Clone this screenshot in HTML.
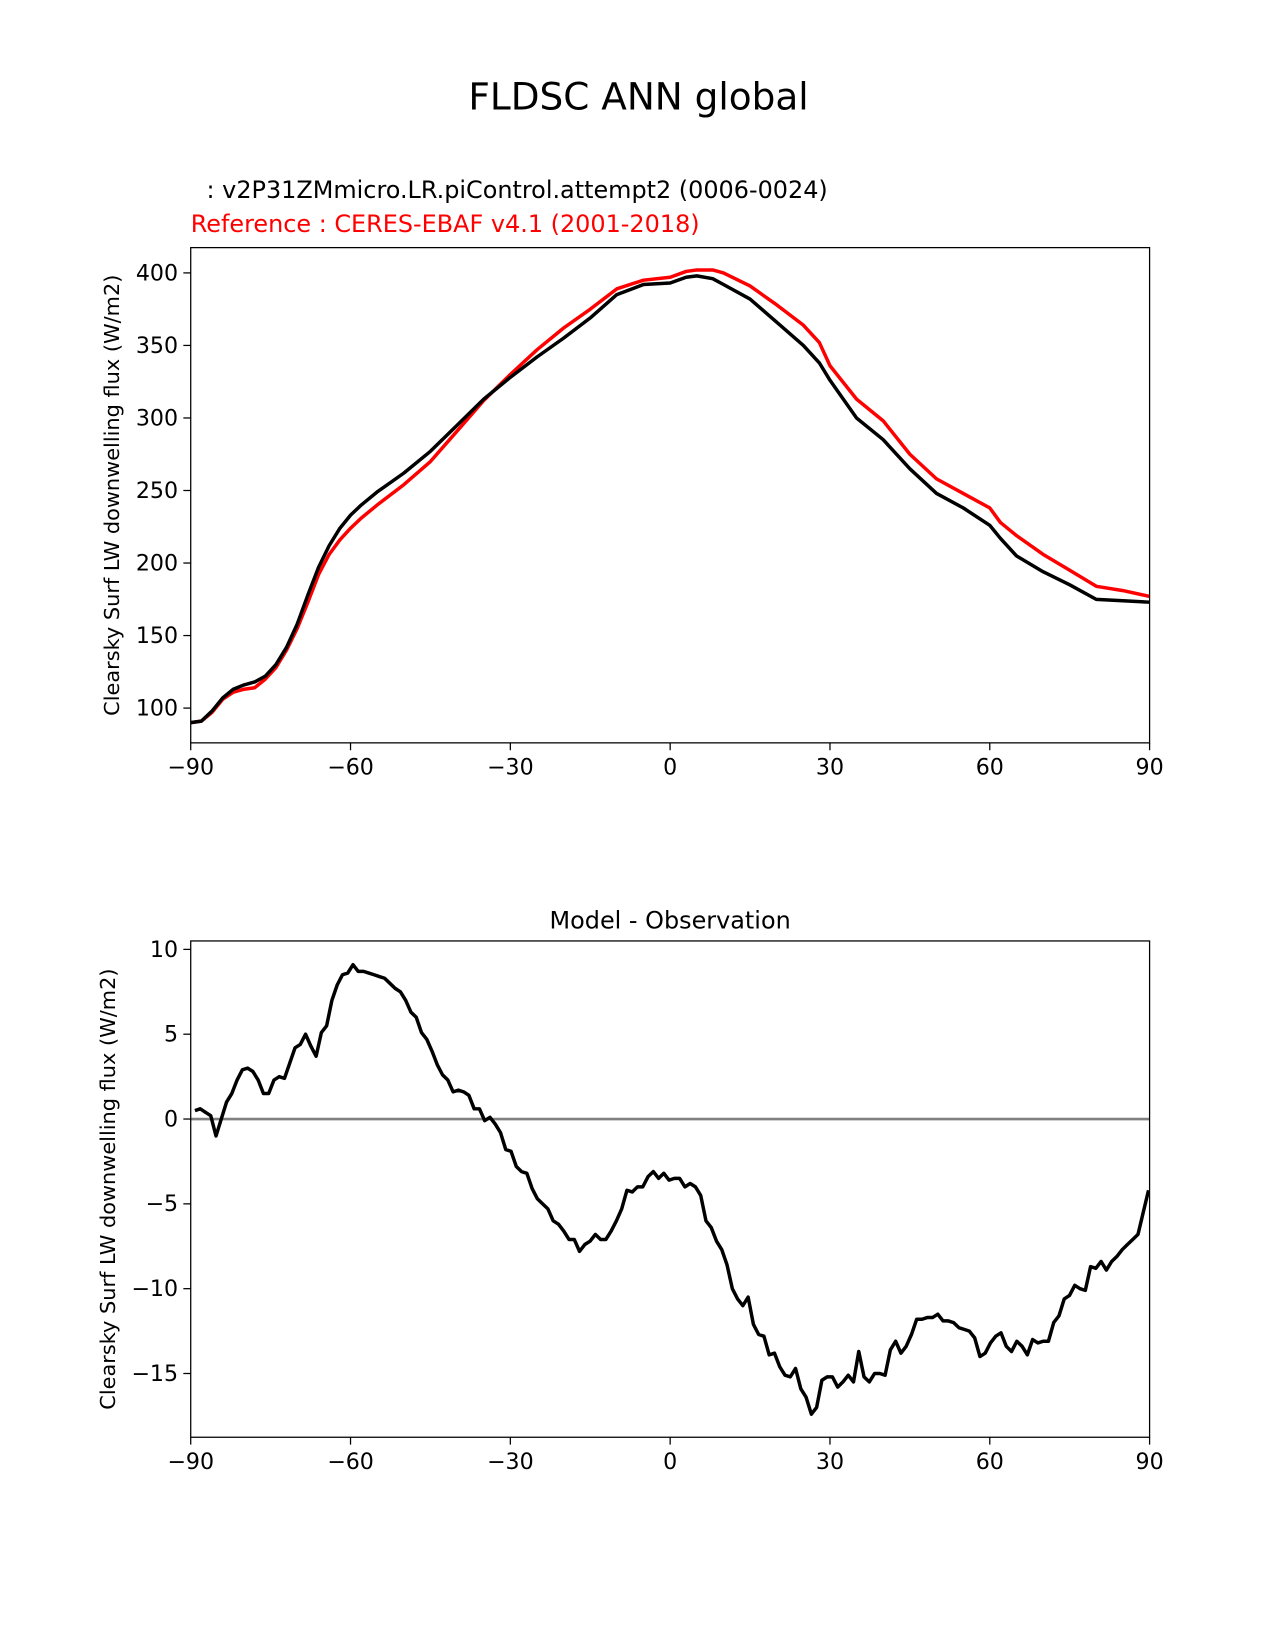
<!DOCTYPE html>
<html><head><meta charset="utf-8"><style>
body{margin:0;background:#fff;}
svg{display:block;font-family:"DejaVu Sans","Liberation Sans",sans-serif;}
</style></head><body>
<svg id="fig" width="1275" height="1650" viewBox="0 0 1275 1650">
<g transform="scale(1.0537)">
<text x="606" y="104" font-size="35.5" text-anchor="middle">FLDSC ANN global</text>
<text x="196" y="188" font-size="22.7">: v2P31ZMmicro.LR.piControl.attempt2 (0006-0024)</text>
<text x="181" y="220" font-size="22.7" fill="#ff0000">Reference : CERES-EBAF v4.1 (2001-2018)</text>
<text x="636" y="881" font-size="22.7" text-anchor="middle">Model - Observation</text>
<g id="top"></g>
<g id="bot"></g>
</g>
</svg>
<script>
const topLat = [-90,-88,-86,-84,-82,-80,-78,-76,-74,-72,-70,-68,-66,-64,-62,-60,-58,-55,-50,-45,-40,-35,-30,-25,-20,-15,-10,-5,0,3,5,8,10,15,20,25,28,30,35,40,45,50,55,60,62,65,70,75,80,85,90];
const modelVals = [90,91,98,107,113,116,118,122,130,142,158,178,197,212,224,233,240,249,262,277,295,313,328,342,355,369,385,392,393,397,398,396,392,382,366,350,338,326,300,285,265,248,238,226,217,205,194,185,175,174,173];
const obsVals = [90,91,97,106,111,113,114,120,128,140,155,173,192,206,216,224,231,240,254,270,291,312,330,347,362,375,389,395,397,401,402,402,400,391,378,364,352,336,313,298,275,258,248,238,228,219,206,195,184,181,177];
const diffLatStart = -89.21, diffLatStep = 0.989;
const diffVals = [0.5,0.6,0.4,0.2,-1.0,0.0,1.0,1.5,2.3,2.9,3.0,2.8,2.3,1.5,1.5,2.3,2.5,2.4,3.3,4.2,4.4,5.0,4.3,3.7,5.1,5.5,7.0,7.9,8.5,8.6,9.1,8.7,8.7,8.6,8.5,8.4,8.3,8.0,7.7,7.5,7.0,6.3,6.0,5.1,4.7,4.0,3.2,2.6,2.3,1.6,1.7,1.6,1.4,0.6,0.6,-0.1,0.1,-0.3,-0.8,-1.8,-1.9,-2.8,-3.1,-3.2,-4.1,-4.7,-5.0,-5.3,-6.0,-6.2,-6.6,-7.1,-7.1,-7.8,-7.4,-7.2,-6.8,-7.1,-7.1,-6.6,-6.0,-5.3,-4.2,-4.3,-4.0,-4.0,-3.4,-3.1,-3.5,-3.2,-3.6,-3.5,-3.5,-4.0,-3.8,-4.0,-4.5,-6.0,-6.4,-7.2,-7.7,-8.6,-10.0,-10.6,-11.0,-10.5,-12.1,-12.7,-12.8,-13.9,-13.8,-14.6,-15.1,-15.2,-14.7,-15.9,-16.4,-17.4,-17.0,-15.4,-15.2,-15.2,-15.8,-15.5,-15.1,-15.5,-13.7,-15.2,-15.5,-15.0,-15.0,-15.1,-13.6,-13.1,-13.8,-13.4,-12.7,-11.8,-11.8,-11.7,-11.7,-11.5,-11.9,-11.9,-12.0,-12.3,-12.4,-12.5,-12.9,-14.0,-13.8,-13.2,-12.8,-12.6,-13.4,-13.7,-13.1,-13.4,-13.9,-13.0,-13.2,-13.1,-13.1,-12.0,-11.6,-10.6,-10.4,-9.8,-10.0,-10.1,-8.7,-8.8,-8.4,-8.9,-8.4,-8.1,-7.7,-7.4,-7.1,-6.8,-5.5,-4.2];
const xTicks = [-90,-60,-30,0,30,60,90];
const xTickLabels = ["\u221290","\u221260","\u221230","0","30","60","90"];
const topYTicks = [100,150,200,250,300,350,400];
const botYTicks = [-15,-10,-5,0,5,10];
const botYTickLabels = ["\u221215","\u221210","\u22125","0","5","10"];

const NS="http://www.w3.org/2000/svg";
function mk(tag, attrs, parent){const e=document.createElementNS(NS,tag);for(const k in attrs)e.setAttribute(k,attrs[k]);parent.appendChild(e);return e;}
const L=181,R=1091;
function xs(lat){return L+(lat+90)/180*(R-L);}
function topY(v){return 672-(v-100)*(672-259)/300;}
function botY(v){return 1062-v*(1062-901)/10;}

function axes(g,top,bot,yTicks,yLabels,yfn,ylabel,nameP){
  xTicks.forEach((t,i)=>{
    const x=xs(t);
    const tk=mk('line',{x1:x,x2:x,y1:bot,y2:bot+7,stroke:'#000','stroke-width':1.2},g);
    
    
    const tx=mk('text',{x:x,y:bot+30,'font-size':21,'text-anchor':'middle'},g);
    tx.textContent=xTickLabels[i];
    
    
  });
  yTicks.forEach((t,i)=>{
    const y=yfn(t);
    const tk=mk('line',{x1:L-7,x2:L,y1:y,y2:y,stroke:'#000','stroke-width':1.2},g);
    
    
    const tx=mk('text',{x:L-12,y:y+7,'font-size':21,'text-anchor':'end'},g);
    tx.textContent=yLabels?yLabels[i]:String(t);
    
    
  });
  const cy=(top+bot)/2;
  const yl=mk('text',{x:0,y:0,'font-size':19.8,'text-anchor':'middle',transform:`translate(${nameP==='top'?113:109},${cy}) rotate(-90)`},g);
  yl.textContent=ylabel;
  
  
}
function frame(g,top,bot,nameP){
  const r=mk('rect',{x:L,y:top,width:R-L,height:bot-top,fill:'none',stroke:'#000','stroke-width':1.2},g);
  
  
}
function line(g,lats,vals,yfn,color,name){
  const d=vals.map((v,i)=>(i?'L':'M')+xs(lats[i]).toFixed(1)+','+yfn(v).toFixed(1)).join(' ');
  const p=mk('path',{d:d,fill:'none',stroke:color,'stroke-width':3.3,'stroke-linejoin':'round'},g);
  
  
}
const label="Clearsky Surf LW downwelling flux (W/m2)";
const gt=document.getElementById('top');
const clipT=mk('clipPath',{id:'ct'},gt);mk('rect',{x:L,y:235,width:R-L,height:470},clipT);
const lt=mk('g',{'clip-path':'url(#ct)'},gt);
line(lt,topLat,obsVals,topY,'#ff0000','obs-line');
line(lt,topLat,modelVals,topY,'#000000','model-line');
frame(gt,235,705,'top');
axes(gt,235,705,topYTicks,null,topY,label,'top');

const gb=document.getElementById('bot');
const clipB=mk('clipPath',{id:'cb'},gb);mk('rect',{x:L,y:893,width:R-L,height:471},clipB);
const lb=mk('g',{'clip-path':'url(#cb)'},gb);
const z=mk('line',{x1:L,x2:R,y1:botY(0),y2:botY(0),stroke:'#808080','stroke-width':2.5},lb);


const diffLat=diffVals.map((v,i)=>diffLatStart+i*diffLatStep);
line(lb,diffLat,diffVals,botY,'#000000','diff-line');
frame(gb,893,1364,'bottom');
axes(gb,893,1364,botYTicks,botYTickLabels,botY,label,'bottom');
</script>
</body></html>
